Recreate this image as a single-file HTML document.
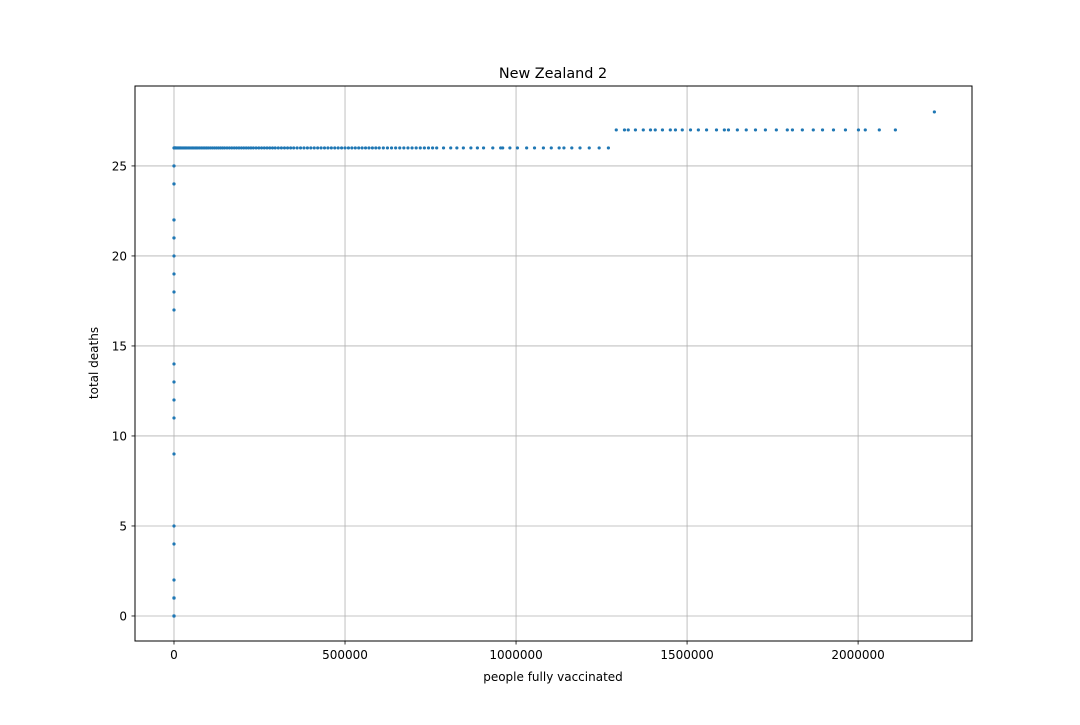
<!DOCTYPE html>
<html><head><meta charset="utf-8"><style>
body{margin:0;background:#fff;font-family:"Liberation Sans","DejaVu Sans",sans-serif}
svg text{font-family:"DejaVu Sans","Liberation Sans",sans-serif;font-size:12px;fill:#000}
</style></head><body>
<svg id="chart" width="1080" height="720">
<rect width="1080" height="720" fill="#fff"/>
<g id="grid"></g><g id="pts"></g>
<rect x="135" y="86" width="837" height="555" fill="none" stroke="#000" stroke-width="1"/>
<g id="axes"></g>
<text x="553" y="78" text-anchor="middle" style="font-size:14.4px">New Zealand 2</text>
<text x="553" y="681" text-anchor="middle">people fully vaccinated</text>
<text transform="translate(98,363) rotate(-90)" text-anchor="middle">total deaths</text>
</svg>
<script>
const xTicks=[0,500000,1000000,1500000,2000000];
const yTicks=[0,5,10,15,20,25];
const lowDeaths=[0,0,0,1,1,1,2,4,5,9,11,12,13,14,17,18,19,20,21,21,22,22,24,24,25,25];
const lowVacc=[0,0,0,0,0,0,0,0,0,0,0,0,0,0,0,0,0,0,0,0,0,0,0,0,0,0];
const vacc26K=[0,0.5,1,2,3,4,5,6,8,10,12,14,16,18,20,23,26,29,32,35,38,42,46,50,54,58,62,66,70,75,80,85,90,95,100,106,112,118,124,130,136,142,148,155,162,169,176,183,190,197,204,211,218,225,232,240,248,256,264,272,280,288,296,305,314,323,332,341,350,360,370,380,390,400,410,420,430,440,450,460,470,480,490,500,510,520,530,540,550,560,570,580,590,600,612,624,636,648,660,672,684,696,708,720,732,744,756,768,788,809,827,846,868,887,905,932,955,961,982,1004,1031,1054,1080,1103,1126,1140,1163,1187,1214,1243,1270];
const vacc27=[1293000,1317000,1328000,1349000,1372000,1393000,1407000,1428000,1451000,1466000,1486000,1510000,1533000,1557000,1586000,1609000,1621000,1647000,1673000,1700000,1729000,1761000,1793000,1808000,1837000,1869000,1896000,1928000,1963000,2001000,2021000,2062000,2109000];
const vacc28=[2223000];
const X0=-114000,X1=2333000,Y0=-1.39,Y1=29.44;
const sx=v=>135+(v-X0)/(X1-X0)*837;
const sy=v=>641-(v-Y0)/(Y1-Y0)*555;
const NS="http://www.w3.org/2000/svg";
function mk(t,a,p){const e=document.createElementNS(NS,t);for(const k in a)e.setAttribute(k,a[k]);p.appendChild(e);return e;}
const grid=document.getElementById('grid'),axes=document.getElementById('axes'),pts=document.getElementById('pts');
xTicks.forEach(t=>{const x=sx(t);
 const g=mk('line',{x1:x,x2:x,y1:86,y2:641,stroke:'#b0b0b0','stroke-width':0.8},grid);
 
 
 mk('line',{x1:x,x2:x,y1:641,y2:644.5,stroke:'#000','stroke-width':0.8},axes);
 const l=mk('text',{x:x,y:659,'text-anchor':'middle'},axes);l.textContent=t;
 
 });
yTicks.forEach(t=>{const y=sy(t);
 const g=mk('line',{x1:135,x2:972,y1:y,y2:y,stroke:'#b0b0b0','stroke-width':0.8},grid);
 
 
 mk('line',{x1:131.5,x2:135,y1:y,y2:y,stroke:'#000','stroke-width':0.8},axes);
 const l=mk('text',{x:127,y:y+4.5,'text-anchor':'end'},axes);l.textContent=t;
 
 });
function dot(v,d){const c=mk('circle',{cx:sx(v),cy:sy(d),r:1.6,fill:'#1f77b4'},pts);
 
 }
lowDeaths.forEach((d,i)=>dot(lowVacc[i],d));
vacc26K.forEach(v=>dot(v*1000,26));
vacc27.forEach(v=>dot(v,27));
vacc28.forEach(v=>dot(v,28));
</script>
</body></html>
